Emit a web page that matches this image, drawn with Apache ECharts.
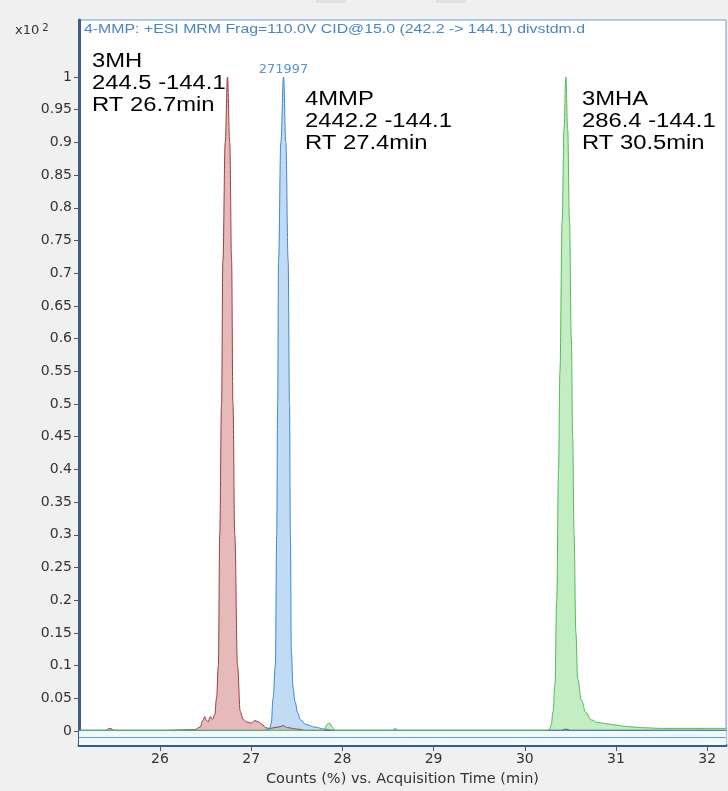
<!DOCTYPE html>
<html>
<head>
<meta charset="utf-8">
<script src="https://cdn.jsdelivr.net/npm/echarts@6/dist/echarts.min.js"></script>
<style>
  html, body { margin: 0; padding: 0; background: #f0f0f0; }
  #chart { width: 728px; height: 791px; }
</style>
</head>
<body>
<div id="chart"></div>
<script>
// tick labels
var xTicks = [26, 27, 28, 29, 30, 31, 32];
var yTicks = [0, 0.05, 0.1, 0.15, 0.2, 0.25, 0.3, 0.35, 0.4, 0.45, 0.5, 0.55, 0.6, 0.65, 0.7, 0.75, 0.8, 0.85, 0.9, 0.95, 1];

// 3MH (red trace)
var mhTime = [25.12, 25.4, 25.45, 25.5, 26.0, 26.38, 26.44, 26.47, 26.49, 26.51, 26.53, 26.55, 26.575, 26.6, 26.62, 26.64, 26.655, 26.675, 26.69, 26.715, 26.74, 26.765, 26.785, 26.8, 26.82, 26.85, 26.88, 26.91, 26.95, 27.0, 27.04, 27.08, 27.12, 27.16, 27.2, 27.3, 27.35, 27.4, 27.5, 27.6, 30.4, 30.45, 30.5, 32.21];
var mhCounts = [0.001, 0.001, 0.004, 0.001, 0.001, 0.002, 0.006, 0.016, 0.022, 0.016, 0.014, 0.022, 0.018, 0.025, 0.05, 0.1, 0.3, 0.5, 0.72, 0.9, 1.0, 0.9, 0.72, 0.5, 0.3, 0.1, 0.03, 0.018, 0.014, 0.012, 0.016, 0.014, 0.01, 0.005, 0.004, 0.006, 0.008, 0.005, 0.003, 0.001, 0.001, 0.003, 0.001, 0.001];

// 4MMP (blue trace)
var mmpTime = [25.12, 27.15, 27.2, 27.22, 27.24, 27.265, 27.28, 27.29, 27.3, 27.325, 27.355, 27.38, 27.405, 27.42, 27.43, 27.44, 27.46, 27.48, 27.51, 27.54, 27.6, 27.7, 27.8, 27.9, 28.55, 28.58, 28.61, 32.21];
var mmpCounts = [0.001, 0.001, 0.003, 0.012, 0.05, 0.1, 0.3, 0.5, 0.72, 0.9, 1.0, 0.9, 0.72, 0.5, 0.3, 0.12, 0.065, 0.045, 0.028, 0.017, 0.01, 0.006, 0.003, 0.001, 0.001, 0.004, 0.001, 0.001];

// 3MHA (green trace)
var mhaTime = [25.12, 27.8, 27.83, 27.86, 27.89, 27.92, 30.24, 30.27, 30.29, 30.31, 30.33, 30.35, 30.37, 30.385, 30.41, 30.43, 30.45, 30.47, 30.49, 30.51, 30.525, 30.54, 30.56, 30.58, 30.62, 30.67, 30.73, 30.8, 30.9, 31.0, 31.1, 31.2, 31.3, 31.5, 31.8, 32.21];
var mhaCounts = [0.001, 0.001, 0.01, 0.012, 0.006, 0.001, 0.001, 0.002, 0.01, 0.03, 0.07, 0.2, 0.4, 0.55, 0.78, 0.92, 1.0, 0.92, 0.78, 0.6, 0.45, 0.3, 0.15, 0.08, 0.047, 0.028, 0.017, 0.013, 0.011, 0.009, 0.007, 0.006, 0.005, 0.004, 0.004, 0.004];

var peakCount = '271997';

function pairs(t, v) {
    var out = [];
    for (var i = 0; i < t.length; i++) {
        out.push([t[i], v[i]]);
    }
    return out;
}

function trace(name, t, v, lineColor, fillColor) {
    return {
        name: name,
        type: 'line',
        data: pairs(t, v),
        symbol: 'none',
        smooth: 0.4,
        smoothMonotone: 'x',
        lineStyle: { color: lineColor, width: 1 },
        areaStyle: { color: fillColor, opacity: 0.65 },
        silent: true
    };
}

// peak annotation text, the screenshot is a bit stretched sideways
function note(x, y, txt) {
    return {
        type: 'text',
        x: x,
        y: y,
        scaleX: 1.19,
        style: { text: txt, fill: '#000', font: '20px "Liberation Sans"', lineHeight: 22 }
    };
}

var chart = echarts.init(document.getElementById('chart'));

var red = trace('3MH', mhTime, mhCounts, '#9a3e3e', '#d89595');
var blue = trace('4MMP', mmpTime, mmpCounts, '#3d86d0', '#9fc8f0');
var green = trace('3MHA', mhaTime, mhaCounts, '#55b855', '#a3e5a3');

// apex label of the blue trace
blue.markPoint = {
    symbol: 'circle',
    symbolSize: 0,
    data: [{ type: 'max' }],
    label: {
        show: true,
        position: 'top',
        distance: 1,
        formatter: peakCount,
        color: '#5b93d3',
        fontSize: 13,
        fontFamily: 'DejaVu Sans'
    }
};

// light strip under the baseline and the lower box edge
red.markArea = {
    silent: true,
    itemStyle: { color: '#eef8fd' },
    data: [[{ yAxis: -0.0214 }, { yAxis: 0 }]]
};
red.markLine = {
    silent: true,
    symbol: 'none',
    label: { show: false },
    lineStyle: { color: '#6b9bd2', width: 1, type: 'solid' },
    data: [{ yAxis: -0.0145 }]
};

var option = {
    backgroundColor: '#f0f0f0',
    animation: false,
    grid: {
        left: 79,
        right: 2,
        top: 20,
        bottom: 46,
        outerBoundsMode: 'none',
        show: true,
        backgroundColor: '#ffffff',
        borderColor: '#6d9bd1',
        borderWidth: 1
    },
    xAxis: {
        type: 'value',
        min: 25.112,
        max: 32.206,
        name: 'Counts (%) vs. Acquisition Time (min)',
        nameLocation: 'middle',
        nameGap: 27,
        nameTextStyle: { color: '#333', fontSize: 14.5, fontFamily: 'DejaVu Sans' },
        axisLine: { show: true, onZero: false, lineStyle: { color: '#3b5d8c', width: 3 } },
        axisTick: { show: true, length: 6, customValues: xTicks, lineStyle: { color: '#555' } },
        axisLabel: { customValues: xTicks, color: '#333', fontSize: 14, fontFamily: 'DejaVu Sans', margin: 7 },
        splitLine: { show: false }
    },
    yAxis: {
        type: 'value',
        min: -0.0214,
        max: 1.0872,
        axisLine: { show: true, onZero: false, lineStyle: { color: '#3b5d8c', width: 3 } },
        axisTick: { show: true, length: 5, customValues: yTicks, lineStyle: { color: '#555' } },
        axisLabel: { customValues: yTicks, color: '#333', fontSize: 14, fontFamily: 'DejaVu Sans', margin: 7 },
        splitLine: { show: false }
    },
    graphic: [
        { type: 'rect', shape: { x: 316, y: 0, width: 30, height: 3 }, style: { fill: '#e0e0e0' } },
        { type: 'rect', shape: { x: 436, y: 0, width: 30, height: 3 }, style: { fill: '#e0e0e0' } },
        {
            type: 'text',
            x: 15,
            y: 23,
            style: {
                rich: {
                    a: { fontSize: 13, fill: '#333', fontFamily: 'DejaVu Sans' },
                    s: { fontSize: 10, fill: '#333', fontFamily: 'DejaVu Sans', verticalAlign: 'top', padding: [0, 0, 6, 3] }
                },
                text: '{a|x10}{s|2}'
            }
        },
        {
            type: 'text',
            x: 84,
            y: 23,
            scaleX: 1.22,
            style: {
                text: '4-MMP: +ESI MRM Frag=110.0V CID@15.0 (242.2 -> 144.1) divstdm.d',
                fill: '#4a86c5',
                font: '13px "Liberation Sans"'
            }
        },
        note(92, 50, '3MH\n244.5 -144.1\nRT 26.7min'),
        note(305, 88, '4MMP\n2442.2 -144.1\nRT 27.4min'),
        note(582, 88, '3MHA\n286.4 -144.1\nRT 30.5min')
    ],
    series: [red, blue, green]
};

chart.setOption(option);
window.onresize = chart.resize;
</script>
</body>
</html>
